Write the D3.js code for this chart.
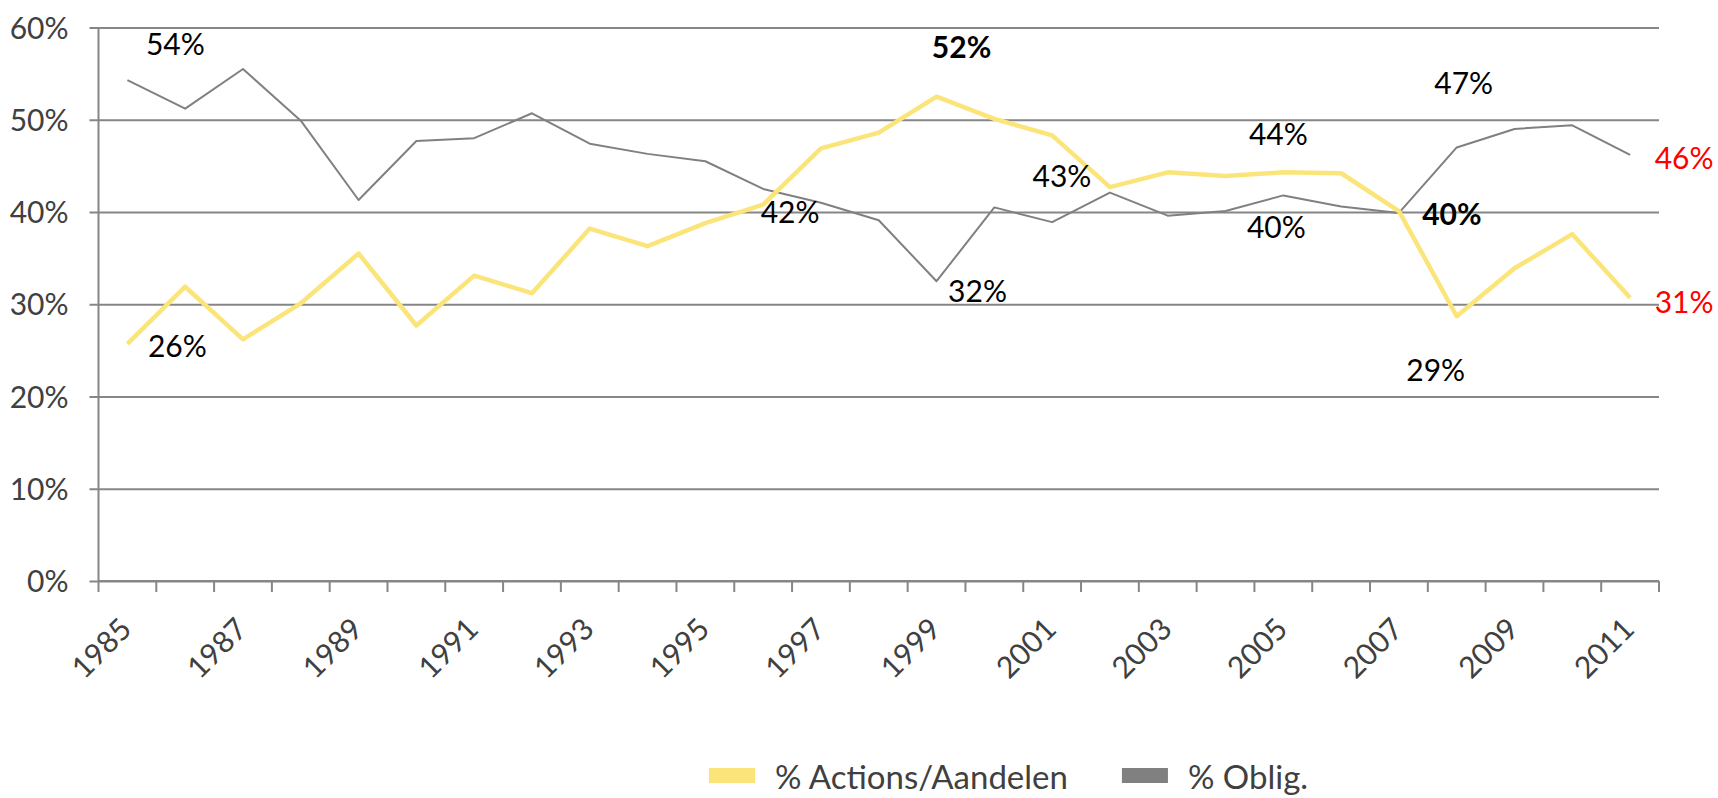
<!DOCTYPE html>
<html>
<head>
<meta charset="utf-8">
<script src="https://cdn.jsdelivr.net/npm/d3@7"></script>
<style>
  html, body { margin: 0; padding: 0; background: #fff; }
  svg { display: block; }
  text { font-family: Lato, "Open Sans", sans-serif; }
</style>
</head>
<body>
<svg id="chart" width="1718" height="798"></svg>
<script>
// ---- data ----
const years = d3.range(1985, 2012);
const actions = [25.7, 31.9, 26.2, 30.1, 35.5, 27.7, 33.1, 31.2, 38.2, 36.3, 38.8, 40.8, 46.9, 48.6, 52.5, 50.1, 48.3, 42.7, 44.3, 43.9, 44.3, 44.2, 40.1, 28.7, 33.9, 37.6, 30.7];
const obligations = [54.3, 51.2, 55.5, 49.9, 41.3, 47.7, 48.0, 50.7, 47.4, 46.3, 45.5, 42.5, 41.0, 39.1, 32.5, 40.5, 38.9, 42.1, 39.6, 40.1, 41.8, 40.6, 39.9, 47.0, 49.0, 49.4, 46.2];
const seriesNames = ["% Actions/Aandelen", "% Oblig."];
const yTicks = [0, 10, 20, 30, 40, 50, 60];
const xLabelYears = years.filter(y => (y - 1985) % 2 === 0);
// data labels: text, series, year
const labelTexts  = ["54%", "26%", "52%", "42%", "32%", "43%", "44%", "40%", "47%", "40%", "29%", "46%", "31%"];
const labelSeries = ["obl", "act", "act", "obl", "obl", "act", "act", "obl", "obl", "act", "act", "obl", "act"];
const labelYears  = [1985, 1985, 1999, 1996, 1999, 2002, 2005, 2005, 2008, 2007, 2008, 2011, 2011];

// ---- layout / style ----
const labelOffsets = [[48,-36],[50,2],[25,-49],[27,23],[41,10],[-48,-11],[-5,-38],[-7,32],[7,-64],[53,3],[-21,54],[54,3],[54,4]];
const labelWeights = ["normal","normal","bold","normal","normal","normal","normal","normal","normal","bold","normal","normal","normal"];
const labelColors  = ["#000","#000","#000","#000","#000","#000","#000","#000","#000","#000","#000","#f00","#f00"];
const colAct = "#FBE57B", colObl = "#808080", gridCol = "#868686";
const x0 = 98.5, x1 = 1659, yTop = 27.5, yBot = 581;
const fs = 30;

const svg = d3.select("#chart");
const x = d3.scaleBand().domain(years).range([x0, x1]).padding(0);
const y = d3.scaleLinear().domain([0, 60]).range([yBot, yTop]);
const xc = yr => x(yr) + x.bandwidth() / 2;

// gridlines + y-axis labels
const yAxis = d3.axisLeft(y).tickValues(yTicks).tickSize(-(x1 - x0)).tickSizeOuter(0).tickPadding(20)
  .tickFormat(d => d + "%");
const gy = svg.append("g").attr("transform", `translate(${x0},0)`).call(yAxis);
gy.select(".domain").remove();
gy.selectAll(".tick line").attr("stroke", gridCol).attr("stroke-width", 2).attr("x1", -9);
gy.selectAll(".tick text").attr("fill", "#404040").style("font-size", fs + "px").attr("x", -30).attr("dy", "0.35em");

// vertical axis line
svg.append("line").attr("x1", x0).attr("x2", x0).attr("y1", yTop).attr("y2", yBot)
  .attr("stroke", gridCol).attr("stroke-width", 2);

// x axis with ticks at band boundaries
const edges = years.map(yr => x(yr)).concat([x1]);
svg.append("g").selectAll("line").data(edges).join("line")
  .attr("x1", d => d).attr("x2", d => d).attr("y1", yBot).attr("y2", yBot + 11)
  .attr("stroke", gridCol).attr("stroke-width", 2);
svg.append("line").attr("x1", x0).attr("x2", x1).attr("y1", yBot).attr("y2", yBot)
  .attr("stroke", gridCol).attr("stroke-width", 2);

svg.append("g").selectAll("text").data(xLabelYears).join("text")
  .attr("transform", d => `translate(${xc(d) + 6},${yBot + 50}) rotate(-45)`)
  .attr("text-anchor", "end")
  .attr("fill", "#404040")
  .style("font-size", fs + "px")
  .text(d => d);

// lines
const line = d3.line().x((d, i) => xc(years[i])).y(d => y(d));
svg.append("path").datum(obligations).attr("d", line)
  .attr("fill", "none").attr("stroke", colObl).attr("stroke-width", 2).attr("stroke-linejoin", "round");
svg.append("path").datum(actions).attr("d", line)
  .attr("fill", "none").attr("stroke", colAct).attr("stroke-width", 4.5).attr("stroke-linejoin", "round");

// data labels
svg.append("g").selectAll("text").data(labelTexts).join("text")
  .attr("x", (d, i) => xc(labelYears[i]) + labelOffsets[i][0])
  .attr("y", (d, i) => {
    const v = (labelSeries[i] === "act" ? actions : obligations)[labelYears[i] - 1985];
    return y(v) + labelOffsets[i][1];
  })
  .attr("text-anchor", "middle")
  .attr("dy", "0.36em")
  .attr("fill", (d, i) => labelColors[i])
  .style("font-weight", (d, i) => labelWeights[i])
  .style("font-size", fs + "px")
  .text(d => d);

// legend
const legend = svg.append("g");
const lgColors = [colAct, colObl];
let lx = 709;
seriesNames.forEach((name, i) => {
  legend.append("rect").attr("x", lx).attr("y", 768).attr("width", 46).attr("height", 15).attr("fill", lgColors[i]);
  const t = legend.append("text").attr("x", lx + 66).attr("y", 789)
    .attr("fill", "#404040").style("font-size", "33px").text(name);
  lx = lx + 66 + t.node().getComputedTextLength() + 54;
});
</script>
</body>
</html>
